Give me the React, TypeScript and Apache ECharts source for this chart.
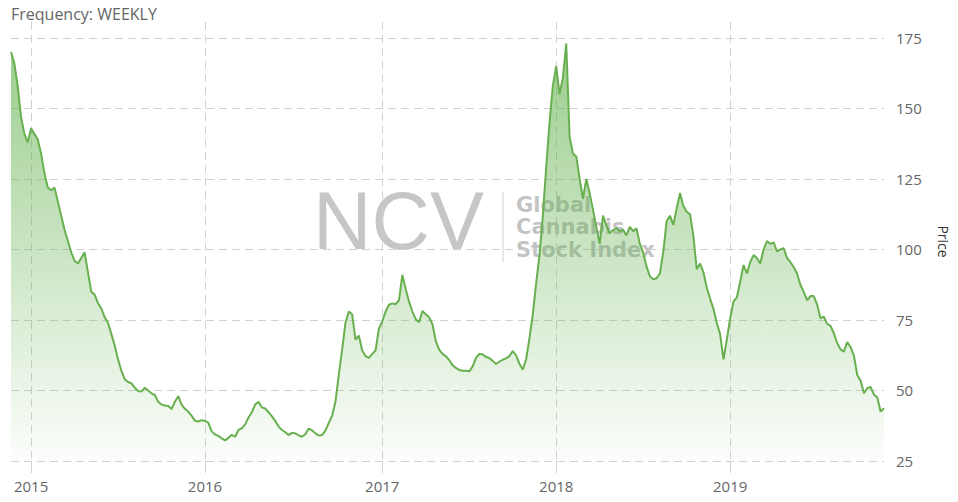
import React, { useEffect, useRef } from "react";
import * as echarts from "echarts";

// Weekly closes, one array per calendar year (first array starts 2014-11-21)
const prices2014_2015 = [
  170, 166, 158, 147, 141, 138, 143, 141, 139, 134, 127, 122, 121, 122, 117, 112,
  107, 103, 99, 96, 95, 97, 99, 92, 85, 84, 81, 79, 76, 74, 70, 66, 61, 57, 54, 53,
  52.5, 51, 49.8, 49.6, 51, 50, 49, 48.4, 46, 45, 44.7, 44.5, 43.4, 46, 48, 45, 43.5,
  42.5, 41, 39.3, 39, 39.5,
];
const prices2016 = [
  39.2, 38.5, 35.5, 34.4, 33.9, 33, 32.3, 33.2, 34.3, 33.6, 36, 36.6, 38, 40.4, 42.3,
  45, 46, 44, 43.6, 42.3, 40.8, 39.2, 37.2, 36, 35.2, 34.2, 35, 34.8, 34.1, 33.6, 34.5,
  36.5, 35.9, 34.8, 34, 34.2, 35.8, 38.5, 41, 46, 55.5, 64.5, 74, 78, 77, 68, 69.5,
  64.2, 62.2, 61.6, 63, 64.2, 72,
];
const prices2017 = [
  74.5, 78, 80.4, 80.9, 80.6, 82, 91, 86, 81.5, 78, 75.3, 74.2, 78.2, 77, 76, 73.5,
  67.5, 64.5, 63, 62.2, 60.8, 59, 58, 57.3, 57, 57, 56.8, 58.5, 61.5, 63, 62.8, 61.9,
  61.5, 60.5, 59.4, 60.2, 60.9, 61.4, 62.2, 64, 62.5, 59.5, 57.4, 61, 68.5, 77, 88, 98,
  112, 129, 145, 158,
];
const prices2018 = [
  165, 155, 161, 173, 140, 134, 133, 125, 118, 125, 120, 114, 108, 102, 112, 108.5,
  105.8, 106.9, 107.5, 106.5, 107, 105, 108, 106.5, 107.5, 102, 99, 94, 90.5, 89.4,
  89.8, 91.5, 99, 110, 112, 108.7, 114.5, 120, 115.5, 113.4, 112.5, 105, 93, 95, 92,
  86.5, 82.6, 79, 74, 70, 61, 68,
];
const prices2019 = [
  75.5, 81.5, 83, 88.5, 94.5, 91.5, 95.5, 98, 97, 95, 100, 103, 102, 102.5, 99.3, 100,
  100.5, 97, 95.5, 93.8, 91.5, 87.5, 85, 82, 83.5, 83.5, 80.5, 75.6, 76.2, 73.6, 72.9,
  70.3, 66.8, 64.6, 63.8, 67.2, 65.4, 62.4, 55.5, 53.5, 49, 50.8, 51.3, 48.5, 47.5,
  42.5, 43.7,
];
const prices = [
  ...prices2014_2015,
  ...prices2016,
  ...prices2017,
  ...prices2018,
  ...prices2019,
];

const START_DATE = Date.UTC(2014, 10, 21);
const WEEK_MS = 7 * 24 * 3600 * 1000;
const dates = prices.map((_, i) =>
  new Date(START_DATE + i * WEEK_MS).toISOString().slice(0, 10)
);

const yTicks = [25, 50, 75, 100, 125, 150, 175];

const titleText = "Frequency: WEEKLY";
const axisName = "Price";

const isYearStart = (index: number) =>
  index > 0 && dates[index].slice(0, 4) !== dates[index - 1].slice(0, 4);

export default function App() {
  const ref = useRef<HTMLDivElement>(null);

  useEffect(() => {
    if (!ref.current) return;
    const chart = echarts.init(ref.current, undefined, { renderer: "svg" });
    const font = "'Open Sans', sans-serif";
    const gridColor = "#d2d2d2";
    chart.setOption({
      animation: false,
      backgroundColor: "#ffffff",
      grid: { left: 11, right: 73, top: 22, bottom: 41, containLabel: false },
      xAxis: {
        type: "category",
        data: dates,
        boundaryGap: false,
        axisLine: { show: false },
        axisTick: {
          show: true,
          interval: (i: number) => isYearStart(i),
          length: 12,
          lineStyle: { color: gridColor, width: 1 },
        },
        axisLabel: {
          interval: (i: number) => isYearStart(i),
          formatter: (v: string) => v.slice(0, 4),
          margin: 17,
          fontSize: 15,
          fontFamily: font,
          color: "#666666",
        },
        splitLine: {
          show: true,
          interval: (i: number) => isYearStart(i),
          lineStyle: { color: gridColor, type: [8, 5], width: 1 },
        },
      },
      yAxis: {
        type: "value",
        position: "right",
        min: yTicks[0],
        max: 180.67,
        interval: 25,
        name: axisName,
        nameLocation: "middle",
        nameRotate: -90,
        nameGap: 52,
        nameTextStyle: { fontSize: 14, fontFamily: font, color: "#333333" },
        axisLine: { show: false },
        axisTick: { show: false },
        axisLabel: {
          showMaxLabel: false,
          formatter: (v: number) => (yTicks.includes(v) ? String(v) : ""),
          margin: 12,
          fontSize: 15,
          fontFamily: font,
          color: "#666666",
          verticalAlign: "middle",
          padding: [0, 0, 20, 0],
        },
        splitLine: {
          show: true,
          showMaxLine: false,
          lineStyle: { color: gridColor, type: [8, 5], width: 1 },
        },
      },
      graphic: [
        {
          type: "text",
          left: 11,
          top: 6,
          style: {
            text: titleText,
            fontSize: 16,
            fontFamily: font,
            fill: "#666666",
          },
        },
        {
          type: "group",
          z: 1,
          children: [
            {
              type: "text",
              x: 313,
              y: 221,
              style: {
                text: "NCV",
                fontSize: 81,
                fontFamily: "'Liberation Sans', Arial, sans-serif",
                fill: "rgba(120,120,120,0.42)",
                verticalAlign: "middle",
              },
            },
            {
              type: "line",
              shape: { x1: 503, y1: 192, x2: 503, y2: 262 },
              style: { stroke: "rgba(140,140,140,0.4)", lineWidth: 1 },
            },
            {
              type: "text",
              x: 516,
              y: 204.5,
              style: {
                text: "Global",
                fontSize: 21,
                fontWeight: "bold",
                fontFamily: "'DejaVu Sans', sans-serif",
                fill: "rgba(120,120,120,0.45)",
                verticalAlign: "middle",
              },
            },
            {
              type: "text",
              x: 516,
              y: 226.5,
              style: {
                text: "Cannabis",
                fontSize: 21,
                fontWeight: "bold",
                fontFamily: "'DejaVu Sans', sans-serif",
                fill: "rgba(120,120,120,0.45)",
                verticalAlign: "middle",
              },
            },
            {
              type: "text",
              x: 516,
              y: 250,
              style: {
                text: "Stock Index",
                fontSize: 21,
                fontWeight: "bold",
                fontFamily: "'DejaVu Sans', sans-serif",
                fill: "rgba(120,120,120,0.45)",
                verticalAlign: "middle",
              },
            },
          ],
        },
      ],
      series: [
        {
          type: "line",
          data: prices,
          showSymbol: false,
          z: 3,
          lineStyle: { color: "#68b04f", width: 2 },
          itemStyle: { color: "#68b04f" },
          areaStyle: {
            color: new echarts.graphic.LinearGradient(0, 0, 0, 1, [
              { offset: 0, color: "rgba(96,176,74,0.9)" },
              { offset: 1, color: "rgba(96,176,74,0.03)" },
            ]),
          },
        },
      ],
    });
    return () => chart.dispose();
  }, []);

  return (
    <div
      ref={ref}
      style={{ position: "fixed", left: 0, top: 0, width: 958, height: 502 }}
    />
  );
}
